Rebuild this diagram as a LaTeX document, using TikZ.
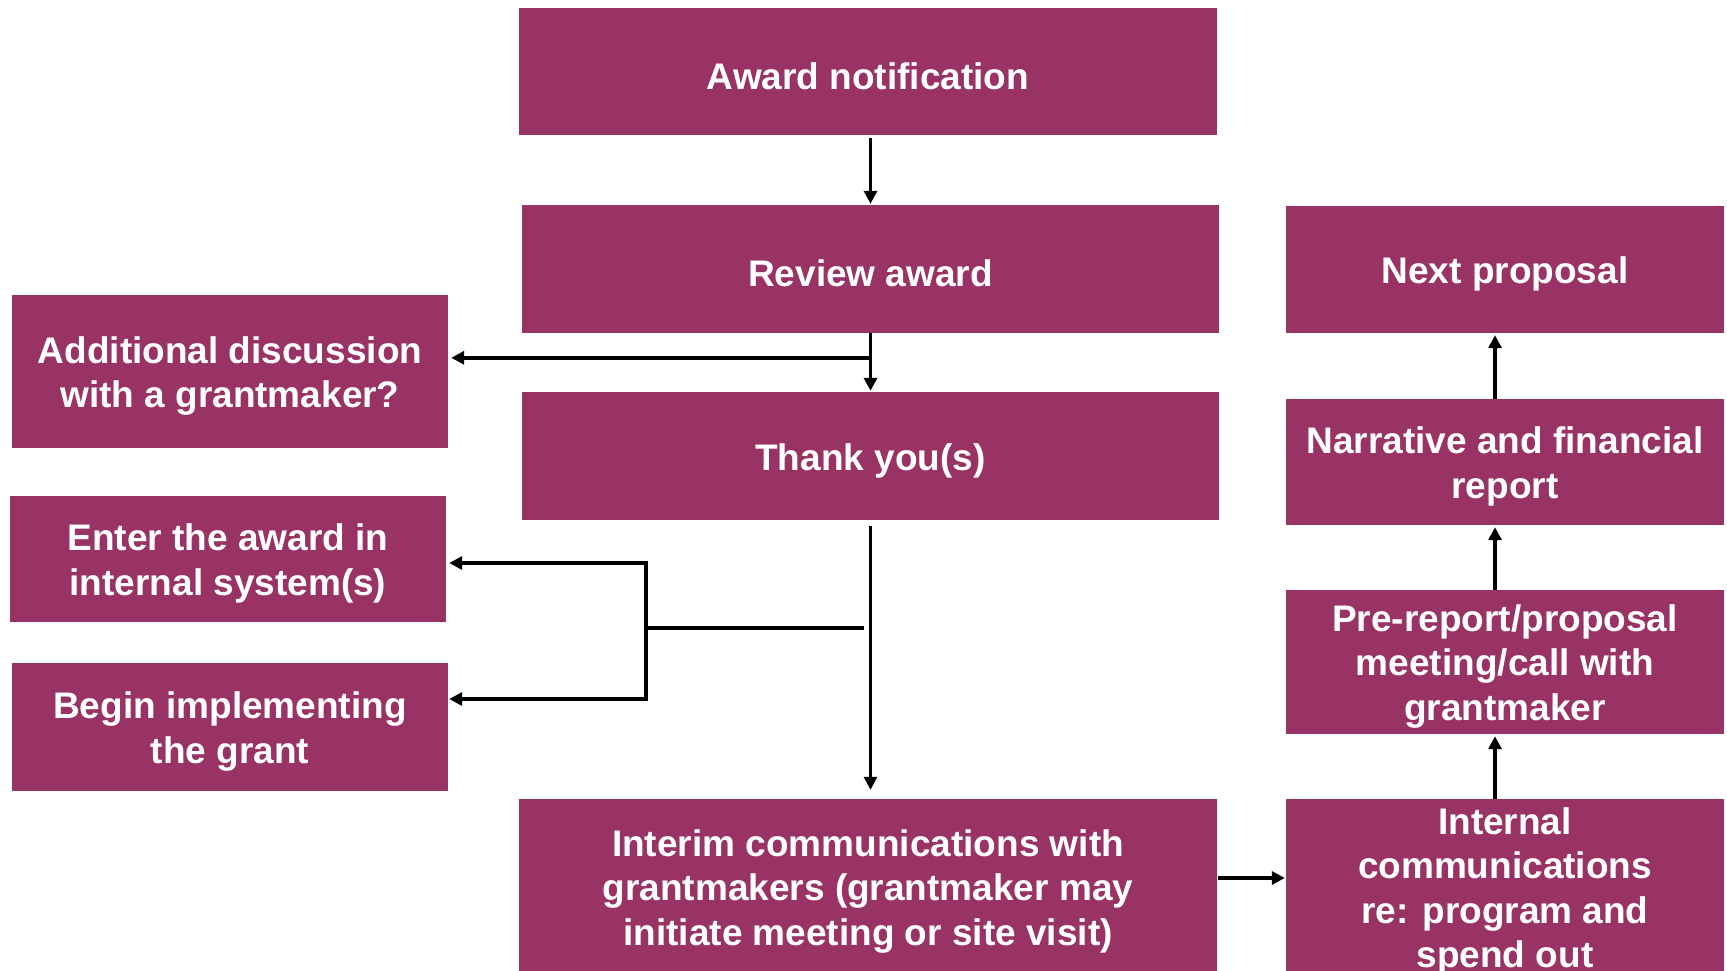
\documentclass[tikz,border=0pt]{standalone}
\usepackage{fontspec}
\setmainfont{Liberation Sans}
\usetikzlibrary{arrows.meta,calc}
\definecolor{plum}{HTML}{993366}
\begin{document}
\begin{tikzpicture}[x=1pt,y=-1pt,
  box/.style={rectangle, fill=plum, inner sep=0pt},
  txt/.style={inner sep=0pt, text=white, align=center, yshift=-4.5pt,
    font=\fontsize{37}{44.5}\selectfont\bfseries},
  conn/.style={line width=3.5pt, draw=black},
  arr/.style={conn, -{Triangle[length=13pt,width=13pt]}},
  darr/.style={conn, {Triangle[length=13pt,width=13pt]}-{Triangle[length=13pt,width=13pt]}}
]
\clip (0,0) rectangle (1727,971);
% central column
\node[box, minimum width=698pt, minimum height=127pt, label={[txt]center:{Award notification}}] (award) at (868,71.5) {};
\node[box, minimum width=697pt, minimum height=128pt, label={[txt]center:{Review award}}] (review) at (870.5,269) {};
\node[box, minimum width=697pt, minimum height=128pt, label={[txt]center:{Thank you(s)}}] (thank) at (870.5,456) {};
\node[box, minimum width=698pt, minimum height=176pt, label={[txt]center:{Interim communications with\\grantmakers (grantmaker may\\initiate meeting or site visit)}}] (interim) at (868,887) {};
% left column
\node[box, minimum width=436pt, minimum height=153pt, label={[txt]center:{Additional discussion\\with a grantmaker?}}] (additional) at (230,371.5) {};
\node[box, minimum width=436pt, minimum height=126pt, label={[txt]center:{Enter the award in\\internal system(s)}}] (enter) at (228,559) {};
\node[box, minimum width=436pt, minimum height=128pt, label={[txt]center:{Begin implementing\\the grant}}] (begin) at (230,727) {};
% right column
\node[box, minimum width=438pt, minimum height=127pt, label={[txt]center:{Next proposal}}] (next) at (1505,269.5) {};
\node[box, minimum width=438pt, minimum height=126pt, label={[txt]center:{Narrative and financial\\report}}] (narrative) at (1505,462) {};
\node[box, minimum width=438pt, minimum height=144pt, label={[txt]center:{Pre-report/proposal\\meeting/call with\\grantmaker}}] (prereport) at (1505,662) {};
\node[box, minimum width=438pt, minimum height=176pt, label={[txt]center:{Internal\\communications\\re: program and\\spend out}}] (internal) at (1505,887) {};
% connectors
\draw[arr, shorten <=3pt, shorten >=1pt] (award.south -| review.north) -- (review.north);
\draw[arr, shorten >=1pt] (review.south) -- (thank.north);
\coordinate (branch) at ($(review.south)!0.42!(thank.north)$);
\draw[arr, shorten >=3pt] (branch) -- (branch -| additional.east);
\draw[arr, line width=3pt, shorten <=6pt, shorten >=9pt] (thank.south) -- (thank.south |- interim.north);
\coordinate (hstart) at (864,628);
\coordinate (split) at (646,628);
\coordinate (top) at (646,563);
\coordinate (bot) at (646,699);
\draw[conn] (hstart) -- (split);
\draw[darr, line join=miter, shorten <=3pt, shorten >=1pt] (top -| enter.east) -- (top) -- (bot) -- (bot -| begin.east);
\draw[arr, shorten <=1pt, shorten >=1pt] ([yshift=9pt]interim.east) -- ([yshift=9pt]interim.east -| internal.west);
\draw[arr, shorten >=2pt] ([xshift=-10pt]internal.north) -- ([xshift=-10pt]prereport.south);
\draw[arr, shorten >=2pt] ([xshift=-10pt]prereport.north) -- ([xshift=-10pt]narrative.south);
\draw[arr, shorten >=2pt] ([xshift=-10pt]narrative.north) -- ([xshift=-10pt]next.south);
\end{tikzpicture}
\end{document}
